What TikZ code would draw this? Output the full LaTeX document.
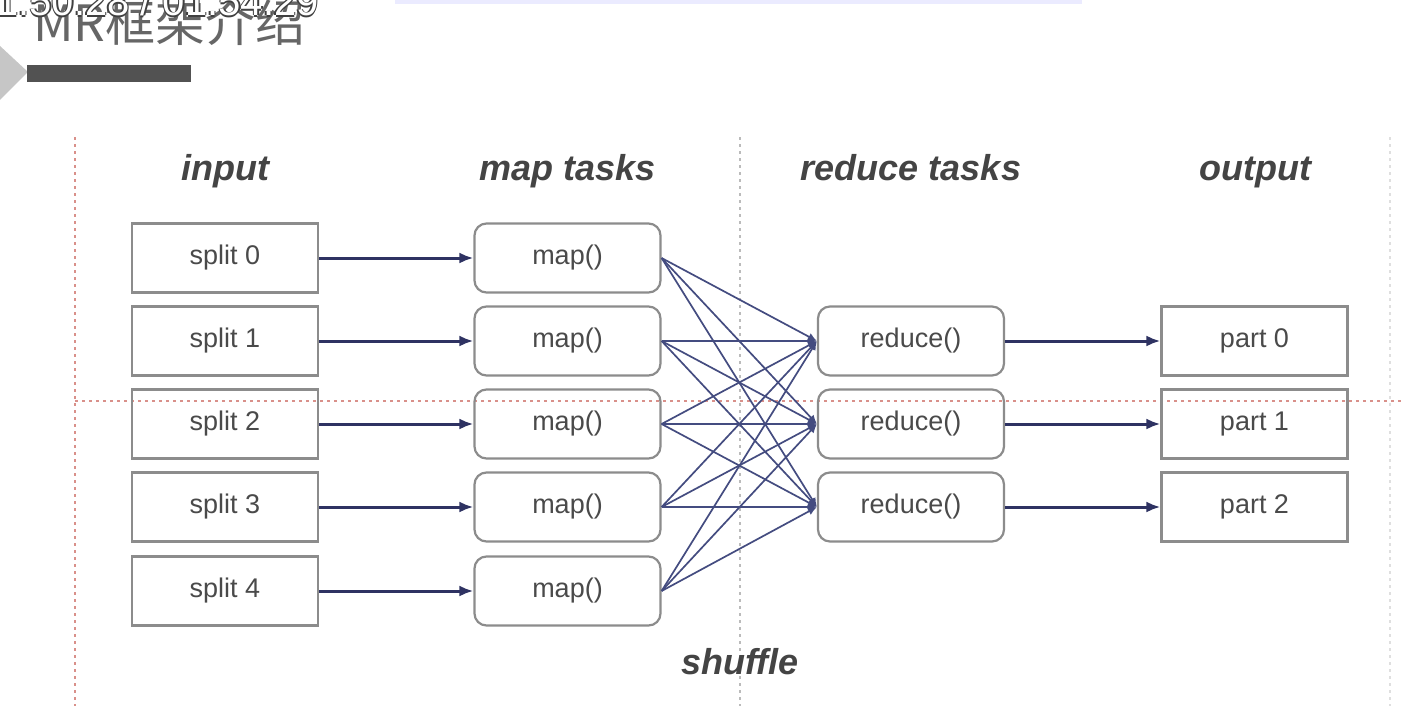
\documentclass[tikz,border=0pt]{standalone}
\usepackage{fontspec}
\setmainfont{Liberation Sans}
\newfontfamily\cjk{Noto Sans CJK SC}
\usetikzlibrary{arrows.meta}
\definecolor{boxline}{HTML}{8C8C8C}
\definecolor{boxtext}{HTML}{4A4A4A}
\definecolor{headtext}{HTML}{444444}
\definecolor{navy}{HTML}{2E3262}
\definecolor{shufcol}{HTML}{444C80}
\definecolor{redguide}{HTML}{D9908A}
\definecolor{grayguide}{HTML}{BBBBBB}
\tikzset{
  sqbox/.style={draw=boxline, line width=2.2pt, minimum width=186pt, minimum height=69pt, inner sep=0pt,
    text=boxtext, font=\fontsize{27}{30}\selectfont},
  rbox/.style={sqbox, rounded corners=12pt},
  head/.style={text=headtext, anchor=base, font=\fontsize{36}{40}\selectfont\bfseries\itshape},
  feed/.style={draw=navy, line width=3pt, -{Latex[length=14pt,width=11pt]}},
  shuf/.style={draw=shufcol, line width=1.7pt, -{Latex[length=9pt,width=8pt]}},
  guide/.style={line width=1.4pt, dash pattern=on 3pt off 4pt},
  tstext/.style={anchor=base west, inner sep=0pt, font=\fontsize{40}{44}\selectfont}
}
\begin{document}
\begin{tikzpicture}[x=1pt,y=-1pt]
\useasboundingbox (0,0) rectangle (1404,706);
\fill[white] (0,0) rectangle (1404,706);
% top decorations
\fill[blue!8] (395,0) rectangle (1082,4);
\fill[gray!45] (0,46) -- (28,72) -- (0,100) -- cycle;
\fill[black!68] (27,65) rectangle (191,82);
\node[anchor=base west, inner sep=0pt, text=black!60, font=\cjk\fontsize{50}{52}\selectfont] (title) at (33,42) {MR框架介绍};
\node[tstext, text=black!75] (tsa) at (-2.5,16) {1:50:28 / 01:54:29};
\node[tstext, text=black!75] (tsb) at (-5.5,16) {1:50:28 / 01:54:29};
\node[tstext, text=black!75] (tsc) at (-4,17.5) {1:50:28 / 01:54:29};
\node[tstext, text=white] (ts) at (-4,16) {1:50:28 / 01:54:29};
% guides
\draw[guide, draw=redguide] (75,137) -- (75,706);
\draw[guide, draw=grayguide] (740,137) -- (740,706);
\draw[guide, draw=gray!25] (1390,137) -- (1390,706);
\draw[guide, draw=redguide] (75,401) -- (1404,401);
% headings
\node[head] (hin) at (225,180) {input};
\node[head] (hmap) at (568,180) {map tasks};
\node[head] (hred) at (911,180) {reduce tasks};
\node[head] (hout) at (1255,180) {output};
\node[head] (hshuf) at (740,674) {shuffle};
% boxes
\foreach \i/\y in {0/258,1/341,2/424,3/507,4/591} {
  \node[sqbox] (s\i) at (225,\y) {split \i};
  \node[rbox] (m\i) at (567.5,\y) {map()};
}
\foreach \i/\y in {0/341,1/424,2/507} {
  \node[rbox] (r\i) at (911,\y) {reduce()};
  \node[sqbox] (p\i) at (1254.5,\y) {part \i};
}
% arrows
\foreach \i in {0,...,4} { \draw[feed] (s\i.east) -- (m\i.west); }
\foreach \i in {0,...,2} { \draw[feed] (r\i.east) -- (p\i.west); }
\foreach \i in {0,...,4} { \foreach \j in {0,...,2} { \draw[shuf] (m\i.east) -- (r\j.west); } }
\end{tikzpicture}
\end{document}
